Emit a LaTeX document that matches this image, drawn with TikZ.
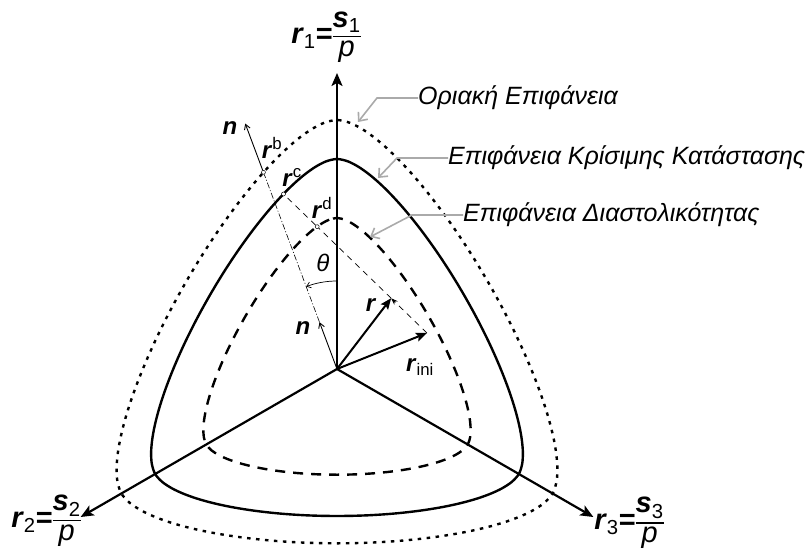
\documentclass[tikz,border=0pt]{standalone}
\usepackage{fontspec}
\setmainfont{Liberation Sans}
\usetikzlibrary{arrows.meta,calc}

\definecolor{tagcol}{RGB}{170,170,170}
\newcommand{\bv}[1]{\textbf{\textit{#1}}}
\newcommand{\frc}[2]{\ensuremath{\vcenter{\offinterlineskip\halign{\hfil##\hfil\cr
  #1\cr\noalign{\kern3.5pt\hrule height1.4pt\kern3.5pt}#2\cr}}}}

\tikzset{
  axisline/.style={line width=2.2pt,-{Stealth[length=13pt,width=11pt,inset=3pt]}},
  surf/.style={line width=2.4pt},
  bsurf/.style={surf,dash pattern=on 3.5pt off 5.5pt},
  dsurf/.style={surf,dash pattern=on 10pt off 8pt},
  vec/.style={line width=2pt,-{Stealth[length=11pt,width=9pt,inset=2pt]}},
  guide/.style={line width=0.7pt,dash pattern=on 6pt off 5pt},
  nline/.style={line width=0.6pt,dash pattern=on 6pt off 2pt on 1pt off 2pt},
  narrow/.style={line width=0.9pt,-{Straight Barb[length=5pt,width=6pt]}},
  tag/.style={tagcol,line width=1.6pt,-{Straight Barb[length=7pt,width=12pt]}},
  spot/.style={circle,draw,fill=white,line width=0.5pt,inner sep=0pt,minimum size=4pt},
  surfname/.style={anchor=west,inner sep=0pt,font=\fontsize{25}{29}\selectfont\itshape},
  axname/.style={inner sep=0pt,font=\fontsize{29}{34}\selectfont},
  vname/.style={inner sep=0pt,font=\fontsize{24}{28}\selectfont},
}

\begin{document}
\begin{tikzpicture}[x=1pt,y=1pt,
  declare function={
    lc(\t)=cos(60-acos(cos(3*\t))/3);
    ww(\t)=(1.02*lc(\t)+0.4*sqrt(2.04*lc(\t)^2-0.35))/(2.04*lc(\t)^2+0.16);
  }]
\useasboundingbox (-337,-180) rectangle (474,369);

% ===== Surfaces =====
\draw[bsurf] plot[smooth cycle,variable=\t,domain=0:357,samples=120] ({90+\t}:{249*ww(\t)});
\draw[surf] plot[smooth cycle,variable=\t,domain=0:357,samples=120] ({90+\t}:{210*ww(\t)});
\draw[dsurf] plot[smooth cycle,variable=\t,domain=0:357,samples=120] ({90+\t}:{151*ww(\t)});

% ===== Axes =====
\coordinate (O) at (0,0);
\foreach \a/\n in {90/1,210/2,330/3} {
    \coordinate (a\n) at (\a:296);
    \draw[axisline] (O) -- (a\n);
}
\node[axname] (lab1) at (-11,332) {\bv{r}\textsubscript{1}\textbf{=}\frc{\bv{s}\textsubscript{1}}{\textit{p}}};
\node[axname] (lab2) at (-291,-152) {\bv{r}\textsubscript{2}\textbf{=}\frc{\bv{s}\textsubscript{2}}{\textit{p}}};
\node[axname] (lab3) at (292,-154) {\bv{r}\textsubscript{3}\textbf{=}\frc{\bv{s}\textsubscript{3}}{\textit{p}}};

% ===== Direction n =====
\coordinate (nt) at (110.5:50);
\coordinate (ntop) at (110.5:262);
\node[spot] (pb) at (110.5:210) {};
\draw[narrow] (O) -- (nt);
\draw[nline] (nt) -- (pb);
\draw[narrow] (pb) -- (ntop);
\node[vname] (n1) at (-34,41) {\bv{n}};
\node[vname] (n2) at (-107,241) {\bv{n}};

% angle theta
\draw[line width=0.7pt,-{Straight Barb[length=4pt,width=6pt]}] (90:88) arc[start angle=90,end angle=110.5,radius=88];
\node[vname] (th) at (-14,106) {\textit{θ}};

% ===== Stress ratio path =====
\coordinate (rini) at (90,36);
\node[spot] (pc) at (107:183) {};
\coordinate (r) at ($(rini)!0.25!(pc)$);
\node[spot] (pd) at ($(rini)!0.765!(pc)$) {};
\draw[guide,-{Stealth[length=7pt,width=5pt]}] (rini) -- (r);
\draw[guide] (r) -- (pd);
\draw[guide] (pd) -- (pc);
\draw[vec] (O) -- (r);
\draw[vec] (O) -- (rini);

\node[vname] (lr) at (34,64) {\bv{r}};
\node[vname] (lrini) at (83,2) {\bv{r}\textsubscript{ini}};
\node[vname] (lrb) at (-65,221) {\bv{r}\textsuperscript{b}};
\node[vname] (lrc) at (-45,192) {\bv{r}\textsuperscript{c}};
\node[vname] (lrd) at (-15,161) {\bv{r}\textsuperscript{d}};

% ===== Surface names =====
\node[surfname] (s1) at (81,271) {Οριακή Επιφάνεια};
\node[surfname] (s2) at (111,211) {Επιφάνεια Κρίσιμης Κατάστασης};
\node[surfname] (s3) at (126,154) {Επιφάνεια Διαστολικότητας};
\coordinate (t1) at (21,247);
\coordinate (t2) at (41,191);
\coordinate (t3) at (33,132);
\draw[tag] (s1.west) -- ++(-41,0) -- (t1);
\draw[tag] (s2.west) -- ++(-51,0) -- (t2);
\draw[tag] (s3.west) -- ++(-51,0) -- (t3);

\end{tikzpicture}
\end{document}
